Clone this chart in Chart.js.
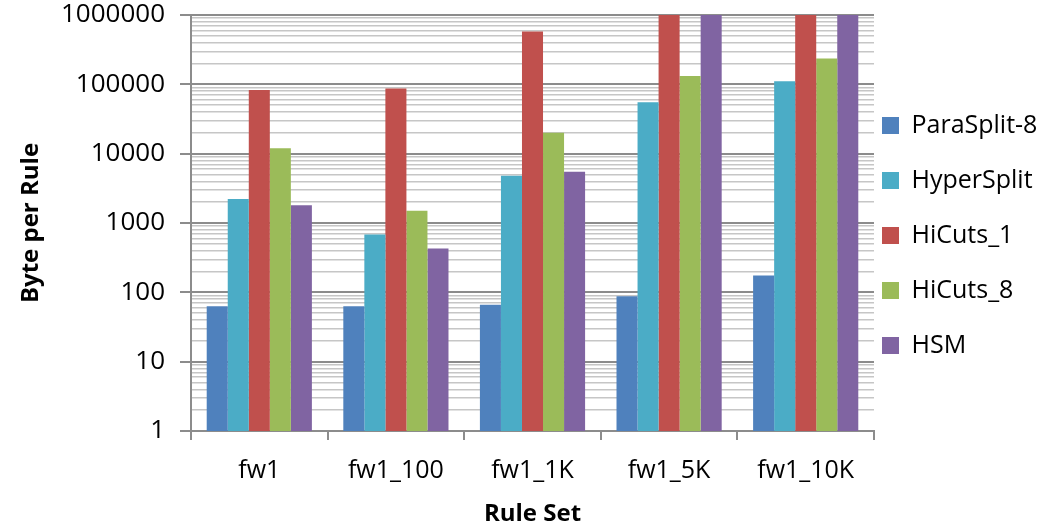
<!DOCTYPE html>
<html>
<head>
<meta charset="utf-8">
<script src="https://cdn.jsdelivr.net/npm/chart.js@4/dist/chart.umd.min.js"></script>
<style>
  html, body { margin: 0; padding: 0; background: #fff; }
  #wrap { width: 1042px; height: 530px; }
</style>
</head>
<body>
<div id="wrap"><canvas id="ruleChart" width="1042" height="530"></canvas></div>
<script>
// rule sets on the x axis
const ruleSets = ['fw1', 'fw1_100', 'fw1_1K', 'fw1_5K', 'fw1_10K'];

// byte per rule
const paraSplit8 = [63, 63, 66, 88, 175];
const hyperSplit = [2220, 680, 4800, 55000, 111000];
const hiCuts1 = [82800, 87000, 580000, 1000000, 1000000];
const hiCuts8 = [12000, 1500, 20000, 132000, 236000];
const hsm = [1800, 430, 5500, 1000000, 1000000];

// labelled ticks on the log axis
const yTickLabels = [1, 10, 100, 1000, 10000, 100000, 1000000];

const seriesNames = ['ParaSplit-8', 'HyperSplit', 'HiCuts_1', 'HiCuts_8', 'HSM'];
const seriesData = [paraSplit8, hyperSplit, hiCuts1, hiCuts8, hsm];
const seriesColors = ['#4F81BD', '#4BACC6', '#C0504D', '#9BBB59', '#8064A2'];

// every 1..9 step per decade gets a grid line, only decades get a label
function logTicks() {
  const ticks = [];
  for (let i = 0; i < yTickLabels.length - 1; i++) {
    for (let k = 1; k < 10; k++) {
      ticks.push({ value: yTickLabels[i] * k, major: k === 1 });
    }
  }
  ticks.push({ value: yTickLabels[yTickLabels.length - 1], major: true });
  return ticks;
}

function isDecade(v) {
  return yTickLabels.indexOf(v) !== -1;
}

// put the legend where the original has it
const legendPlace = {
  id: 'legendPlace',
  beforeInit(chart) {
    const fit = chart.legend.fit;
    chart.legend.fit = function () {
      fit.call(this);
      this.width = 168;
    };
  },
  afterLayout(chart) {
    const lg = chart.legend;
    const pad = lg.options.labels.padding;
    lg.left = 882 - pad;
    lg.right = chart.width + 10;
    lg.width = lg.right - lg.left;
    lg.top = 113 - pad;
    lg.bottom = lg.top + 400;
    lg.height = 400;
  }
};

const ctx = document.getElementById('ruleChart').getContext('2d');
new Chart(ctx, {
  type: 'bar',
  data: {
    labels: ruleSets,
    datasets: seriesNames.map((name, i) => ({
      label: name,
      data: seriesData[i],
      backgroundColor: seriesColors[i],
      borderWidth: 0,
      barPercentage: 1.0,
      categoryPercentage: 0.77
    }))
  },
  options: {
    responsive: false,
    animation: false,
    layout: { padding: 0 },
    plugins: {
      tooltip: { enabled: false },
      legend: {
        position: 'right',
        align: 'start',
        labels: {
          color: '#000',
          boxWidth: 17,
          boxHeight: 17,
          padding: 30,
          font: { family: 'Open Sans', size: 25 }
        }
      }
    },
    scales: {
      x: {
        grid: {
          display: true,
          drawOnChartArea: false,
          offset: true,
          color: '#8c8c8c',
          lineWidth: 2,
          tickLength: 9
        },
        border: { color: '#8c8c8c', width: 2 },
        ticks: {
          color: '#000',
          padding: 16,
          font: { family: 'Open Sans', size: 25 }
        },
        title: {
          display: true,
          text: 'Rule Set',
          color: '#000',
          padding: { top: 0, bottom: 1 },
          font: { family: 'Open Sans', size: 24, weight: 'bold' }
        },
        afterFit(scale) { scale.height = 99; }
      },
      y: {
        type: 'logarithmic',
        min: 1,
        max: 1000000,
        afterBuildTicks(scale) { scale.ticks = logTicks(); },
        grid: {
          color: (c) => isDecade(c.tick.value) ? '#8c8c8c' : '#c6c6c6',
          lineWidth: (c) => isDecade(c.tick.value) ? 2 : 1.5,
          tickColor: (c) => isDecade(c.tick.value) ? '#8c8c8c' : 'rgba(0,0,0,0)',
          tickLength: 11
        },
        border: { color: '#8c8c8c', width: 2 },
        ticks: {
          color: '#000',
          padding: 15,
          autoSkip: false,
          font: { family: 'Open Sans', size: 26 },
          callback: (v) => isDecade(v) ? String(v) : ''
        },
        title: {
          display: true,
          text: 'Byte per Rule',
          color: '#000',
          padding: { top: 17, bottom: 0 },
          font: { family: 'Open Sans', size: 24, weight: 'bold' }
        },
        afterFit(scale) {
          scale.width = 191;
          scale.paddingTop = 15;
          scale.paddingBottom = 0;
        }
      }
    }
  },
  plugins: [legendPlace]
});
</script>
</body>
</html>
